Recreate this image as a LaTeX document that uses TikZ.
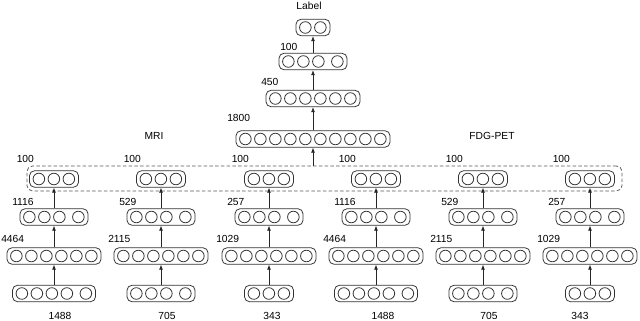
\documentclass[tikz,border=0pt]{standalone}
\usepackage{fontspec}
\setmainfont{Liberation Sans}
\usetikzlibrary{arrows.meta, positioning}

\begin{document}
\begin{tikzpicture}[
    x=0.025cm, y=-0.025cm,
    font=\fontsize{7.3}{8.5}\selectfont,
    layer/.style 2 args={draw=black!80, line width=0.55pt, rounded corners=3.5pt, inner sep=0pt, minimum height=0.41cm, minimum width={(15*#1+4+#2)*0.025cm}},
    unit/.style={draw=black!80, line width=0.55pt, circle, inner sep=0pt, minimum size=0.29cm},
    size/.style={inner sep=0pt, anchor=west},
    arr/.style={-{Latex[length=3.6pt,width=2.8pt]}, line width=0.55pt, black!85},
    fusebox/.style={draw=black!65, dash pattern=on 2.5pt off 1.6pt, line width=0.55pt, rounded corners=4pt, minimum width=14.875cm, minimum height=0.625cm, inner sep=0pt},
]
\useasboundingbox (0,0) rectangle (640,321);

% --- MRI columns ---
\node[layer={5}{4}] (mri1-in) at (54,293.5) {};
\node[layer={6}{0}] (mri1-h1) at (54,256) {};
\node[layer={4}{4}] (mri1-h2) at (54,217) {};
\node[layer={3}{0}] (mri1-z)  at (54,179) {};

\node[layer={4}{4}] (mri2-in) at (161,293.5) {};
\node[layer={6}{0}] (mri2-h1) at (161,256) {};
\node[layer={4}{4}] (mri2-h2) at (161,217) {};
\node[layer={3}{0}] (mri2-z)  at (161,179) {};

\node[layer={3}{0}] (mri3-in) at (269,293.5) {};
\node[layer={6}{0}] (mri3-h1) at (269,256) {};
\node[layer={4}{4}] (mri3-h2) at (269,217) {};
\node[layer={3}{0}] (mri3-z)  at (269,179) {};

% --- FDG-PET columns ---
\node[layer={5}{4}] (pet1-in) at (376,293.5) {};
\node[layer={6}{0}] (pet1-h1) at (376,256) {};
\node[layer={4}{4}] (pet1-h2) at (376,217) {};
\node[layer={3}{0}] (pet1-z)  at (376,179) {};

\node[layer={4}{4}] (pet2-in) at (483,293.5) {};
\node[layer={6}{0}] (pet2-h1) at (483,256) {};
\node[layer={4}{4}] (pet2-h2) at (483,217) {};
\node[layer={3}{0}] (pet2-z)  at (483,179) {};

\node[layer={3}{0}] (pet3-in) at (590,293.5) {};
\node[layer={6}{0}] (pet3-h1) at (590,256) {};
\node[layer={4}{4}] (pet3-h2) at (590,217) {};
\node[layer={3}{0}] (pet3-z)  at (590,179) {};

% --- Shared layers ---
\node[fusebox] (fuse) at (324.5,178.5) {};
\node[layer={10}{0}] (j1)  at (313,139) {};
\node[layer={6}{0}]  (j2)  at (313,98.5) {};
\node[layer={4}{4}]  (j3)  at (313,61.5) {};
\node[layer={2}{0}]  (out) at (313,27.5) {};

% --- Units in every layer ---
\foreach \b/\n/\g in {mri1-in/5/4, mri1-h1/6/0, mri1-h2/4/4, mri1-z/3/0,
                      mri2-in/4/4, mri2-h1/6/0, mri2-h2/4/4, mri2-z/3/0,
                      mri3-in/3/0, mri3-h1/6/0, mri3-h2/4/4, mri3-z/3/0,
                      pet1-in/5/4, pet1-h1/6/0, pet1-h2/4/4, pet1-z/3/0,
                      pet2-in/4/4, pet2-h1/6/0, pet2-h2/4/4, pet2-z/3/0,
                      pet3-in/3/0, pet3-h1/6/0, pet3-h2/4/4, pet3-z/3/0,
                      j1/10/0, j2/6/0, j3/4/4, out/2/0} {
  \foreach \k in {1,...,\n} {
    \pgfmathsetmacro\ux{9.75+15*(\k-1)+(\k==\n)*\g}
    \node[unit] at ([xshift=\ux*0.025cm]\b.west) {};
  }
}

% --- Connections ---
\foreach \c in {mri1, mri2, mri3, pet1, pet2, pet3} {
  \draw[arr] (\c-in) -- (\c-h1);
  \draw[arr] (\c-h1) -- (\c-h2);
  \draw[arr] (\c-h2) -- (\c-z);
}
\draw[arr] (fuse.north -| j1) -- (j1);
\draw[arr] (j1) -- (j2);
\draw[arr] (j2) -- (j3);
\draw[arr] (j3) -- (out);

% --- Titles ---
\node at (309,6) {Label};
\node at (154,136) {MRI};
\node at (492,136) {FDG-PET};

% --- Layer sizes ---
\foreach \cx/\sa/\sb/\sc in {54/4464/1116/100, 161/2115/529/100, 269/1029/257/100,
                             376/4464/1116/100, 483/2115/529/100, 590/1029/257/100} {
  \node[size] at (\cx-53,239) {\sa};
  \node[size] at (\cx-42,202) {\sb};
  \node[size] at (\cx-37.5,159) {\sc};
}
\node[size] at (227,118) {1800};
\node[size] at (261,82) {450};
\node[size] at (280,47) {100};

% --- Input sizes ---
\node at (60,316) {1488};
\node at (167,316) {705};
\node at (272,316) {343};
\node at (383,316) {1488};
\node at (489,316) {705};
\node at (580,316) {343};

\end{tikzpicture}
\end{document}
